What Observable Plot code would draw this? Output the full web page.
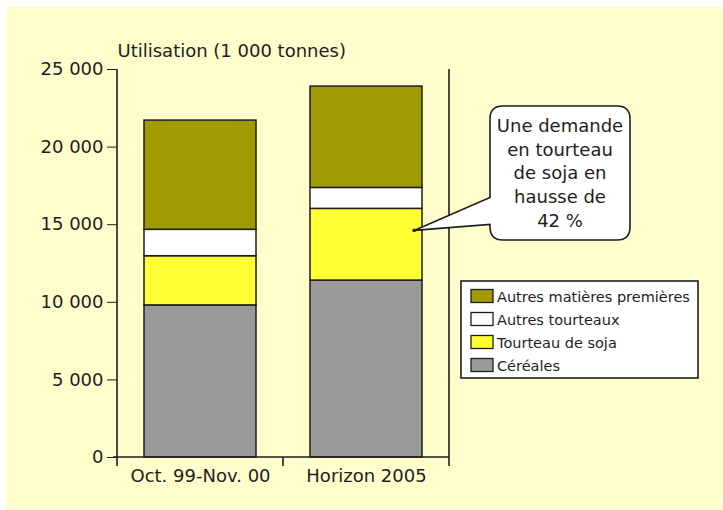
<!DOCTYPE html>
<html>
<head>
<meta charset="utf-8">
<script src="https://cdn.jsdelivr.net/npm/d3@7"></script>
<script src="https://cdn.jsdelivr.net/npm/@observablehq/plot@0.6"></script>
<style>
  html, body { margin: 0; padding: 0; background: #ffffff; }
  #chart { position: absolute; left: 6px; top: 7px; }
  #chart svg { background: #FFFDCB; display: block; }
</style>
</head>
<body>
<div id="chart"></div>
<script>
// ---- data ----
const periods = ["Oct. 99-Nov. 00", "Horizon 2005"];
const categories = ["Céréales", "Tourteau de soja", "Autres tourteaux", "Autres matières premières"];
const cereales = [9800, 11400];
const tourteauSoja = [3170, 4620];
const autresTourteaux = [1700, 1350];
const autresMatieres = [7040, 6530];
const colors = ["#9A9A9A", "#FFFF33", "#FFFFFF", "#A09B00"];
const yTicks = [0, 5000, 10000, 15000, 20000, 25000];
const yTitle = "Utilisation (1 000 tonnes)";
const calloutLines = ["Une demande", "en tourteau", "de soja en", "hausse de", "42 %"];
const calloutTarget = {period: "Horizon 2005", value: 14600};

const series = [cereales, tourteauSoja, autresTourteaux, autresMatieres];
const rows = [];
categories.forEach((c, i) => periods.forEach((p, j) => rows.push({period: p, category: c, value: series[i][j]})));

const fmt = d => d3.format(",")(d).replace(/,/g, " ");
const FONT = "DejaVu Sans, Verdana, sans-serif";
const INK = "#1e1e1e";

const chart = Plot.plot({
  width: 717,
  height: 503,
  marginLeft: 111,
  marginRight: 274,
  marginTop: 62,
  marginBottom: 53,
  style: {fontFamily: FONT, fontSize: "17px", color: INK, background: "#FFFDCB"},
  x: {domain: periods, paddingInner: 0.325, paddingOuter: 0.1625, label: null},
  y: {domain: [0, 25000], label: null},
  color: {domain: categories, range: colors},
  marks: [
    Plot.barY(rows, Plot.stackY({
      x: "period", y: "value", fill: "category", order: categories,
      stroke: INK, strokeWidth: 1.5
    })),
    Plot.axisY({ticks: yTicks, tickFormat: fmt, tickSize: 10, tickPadding: 4, fontSize: 18, label: null}),
    Plot.axisX({tickSize: 0, tickPadding: 12, fontSize: 18, label: null}),
    Plot.text([yTitle], {frameAnchor: "top-left", textAnchor: "start", lineAnchor: "bottom", dy: -13, fontSize: 18, fill: INK})
  ]
});
document.getElementById("chart").appendChild(chart);

// ---- frame lines, band ticks, callout and legend, positioned with the plot's scales ----
const sx = chart.scale("x"), sy = chart.scale("y");
const [x0, x1] = sx.range;
const [yb, yt] = sy.range;
const svg = d3.select(chart);
const g = svg.append("g").attr("stroke", INK).attr("stroke-width", 1.6).attr("fill", "none");
g.append("line").attr("x1", x0).attr("x2", x0).attr("y1", yt).attr("y2", yb + 9);
g.append("line").attr("x1", x1).attr("x2", x1).attr("y1", yt).attr("y2", yb + 9);
g.append("line").attr("x1", x0 - 4).attr("x2", x1).attr("y1", yb).attr("y2", yb);
const mid = (sx.apply(periods[0]) + sx.bandwidth + sx.apply(periods[1])) / 2;
g.append("line").attr("x1", mid).attr("x2", mid).attr("y1", yb).attr("y2", yb + 9);

// callout
const tipX = sx.apply(calloutTarget.period) + sx.bandwidth * 0.93;
const tipY = sy.apply(calloutTarget.value);
const bx0 = x1 + 41, bx1 = x1 + 181, by0 = yt + 37, by1 = yt + 171, r = 13;
const p1 = tipY - 33, p2 = tipY - 6;
const path = [
  `M${bx0 + r},${by0}`, `H${bx1 - r}`, `Q${bx1},${by0} ${bx1},${by0 + r}`,
  `V${by1 - r}`, `Q${bx1},${by1} ${bx1 - r},${by1}`, `H${bx0 + r}`,
  `Q${bx0},${by1} ${bx0},${by1 - r}`, `V${p2}`, `L${tipX},${tipY}`, `L${bx0},${p1}`,
  `V${by0 + r}`, `Q${bx0},${by0} ${bx0 + r},${by0}`, "Z"
].join(" ");
svg.append("path").attr("d", path).attr("fill", "#FFFFFF").attr("stroke", INK).attr("stroke-width", 1.6);
svg.append("circle").attr("cx", tipX).attr("cy", tipY).attr("r", 1.8).attr("fill", INK);
const ct = svg.append("text").attr("font-family", FONT).attr("font-size", 18).attr("fill", INK).attr("text-anchor", "middle");
calloutLines.forEach((t, i) => ct.append("tspan").attr("x", (bx0 + bx1) / 2).attr("y", by0 + 26 + i * 23.7).text(t));

// legend
const lx0 = x1 + 12, lx1 = x1 + 249, ly0 = yt + 212, ly1 = yt + 309;
svg.append("rect").attr("x", lx0).attr("y", ly0).attr("width", lx1 - lx0).attr("height", ly1 - ly0)
  .attr("fill", "#FFFFFF").attr("stroke", INK).attr("stroke-width", 1.6);
const legendItems = categories.map((c, i) => ({c, col: colors[i]})).reverse();
legendItems.forEach((d, i) => {
  const cy = ly0 + 15 + i * 23;
  svg.append("rect").attr("x", lx0 + 10).attr("y", cy - 6.5).attr("width", 22).attr("height", 13)
    .attr("fill", d.col).attr("stroke", INK).attr("stroke-width", 1.3);
  svg.append("text").attr("x", lx0 + 36).attr("y", cy + 5.5).attr("font-family", FONT)
    .attr("text-anchor", "start").attr("font-size", 14.5).attr("fill", INK).text(d.c);
});
</script>
</body>
</html>
